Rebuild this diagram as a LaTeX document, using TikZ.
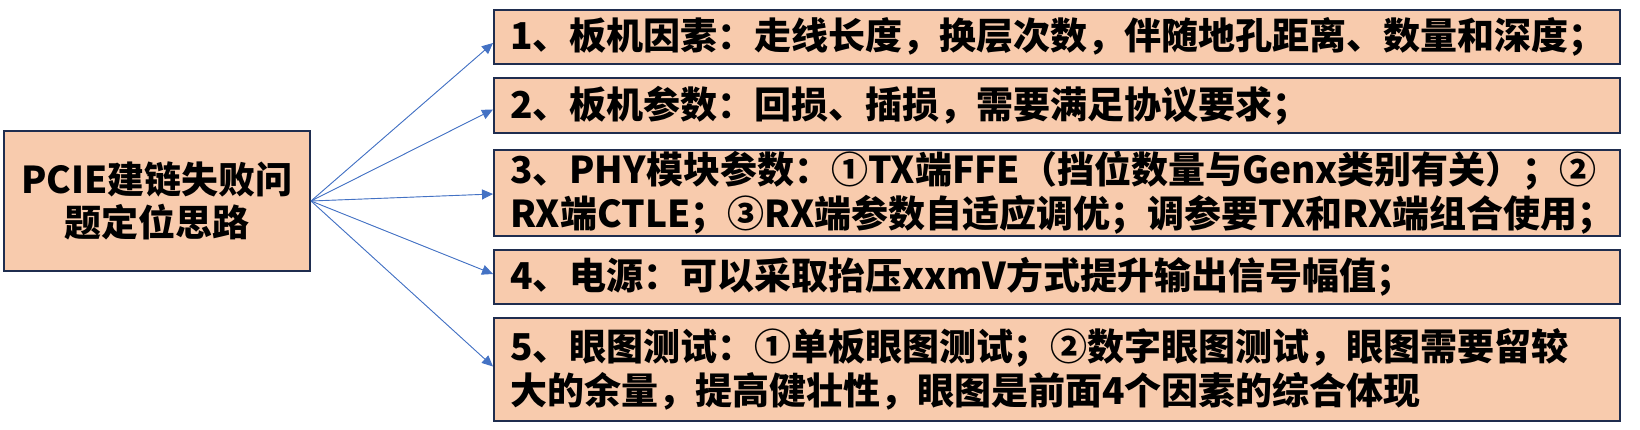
\documentclass[tikz,border=0pt]{standalone}
\usepackage{fontspec}
\setmainfont{Noto Sans CJK SC}
\usepackage{tikz}
\usetikzlibrary{positioning,shapes,arrows.meta}
\definecolor{peach}{HTML}{F8CBAD}
\definecolor{navy}{HTML}{1F2D4F}
\definecolor{linkblue}{HTML}{4472C4}

\begin{document}
\begin{tikzpicture}[
    x=1pt, y=1pt,
    box/.style={draw=navy, line width=2pt, fill=peach, font=\bfseries},
    item/.style={box, anchor=north west, align=left, text width=1094pt, inner xsep=16pt, inner ysep=0pt,
        font=\fontsize{37}{44}\selectfont\bfseries},
    arrow/.style={-{Triangle[length=11pt,width=10pt]}, draw=linkblue, fill=linkblue, line width=0.9pt}
]
    \useasboundingbox (0,0) rectangle (1640,-429);

    \node (root) [box, minimum width=306pt, minimum height=140pt, align=center,
        font=\fontsize{37}{43}\selectfont\bfseries] at (157,-201) {PCIE建链失败问\\题定位思路};

    \node (board) [item, minimum height=54pt] at (493,-9) {1、板机因素：走线长度，换层次数，伴随地孔距离、数量和深度；};
    \node (param) [item, minimum height=55pt, below=12pt of board.south west, anchor=north west] {2、板机参数：回损、插损，需要满足协议要求；};
    \node (phy) [item, minimum height=86pt, below=15pt of param.south west, anchor=north west] {3、PHY模块参数：①TX端FFE（挡位数量与Genx类别有关）；②\\RX端CTLE；③RX端参数自适应调优；调参要TX和RX端组合使用；};
    \node (power) [item, minimum height=54pt, below=12pt of phy.south west, anchor=north west] {4、电源：可以采取抬压xxmV方式提升输出信号幅值；};
    \node (eye) [item, minimum height=103pt, below=12pt of power.south west, anchor=north west] {5、眼图测试：①单板眼图测试；②数字眼图测试，眼图需要留较\\大的余量，提高健壮性，眼图是前面4个因素的综合体现};

    \draw[arrow] (root.east) -- ([yshift=-6pt]board.west);
    \draw[arrow] (root.east) -- ([yshift=-4pt]param.west);
    \draw[arrow] (root.east) -- ([yshift=-1pt]phy.west);
    \draw[arrow] (root.east) -- ([yshift=3pt]power.west);
    \draw[arrow] (root.east) -- ([yshift=3pt]eye.west);
\end{tikzpicture}
\end{document}
